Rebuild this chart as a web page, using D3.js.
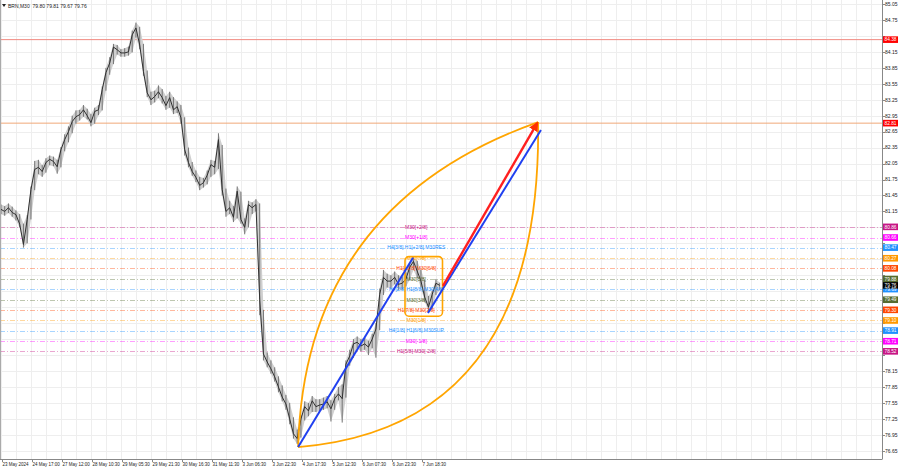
<!DOCTYPE html>
<html><head><meta charset="utf-8">
<script src="https://cdn.jsdelivr.net/npm/d3@7/dist/d3.min.js"></script>
<style>body{margin:0;background:#fff;overflow:hidden}svg{display:block;font-family:"Liberation Sans",Arial,sans-serif}</style>
</head><body><svg id="c" width="900" height="468"></svg>
<script>
// ---------- DATA ----------
const symbolTitle = "BRN,M30  79.80 79.81 79.67 79.76";
const timeLabels = ["23 May 2024","24 May 17:00","27 May 12:00","28 May 10:30","29 May 05:30","29 May 21:30","30 May 16:30","31 May 11:30","3 Jun 06:30","3 Jun 22:30","4 Jun 17:30","5 Jun 12:30","6 Jun 07:30","6 Jun 23:30","7 Jun 18:30"];
const priceTicks = [85.05,84.75,84.45,84.15,83.85,83.55,83.25,82.95,82.65,82.35,82.05,81.75,81.45,81.15,80.85,80.55,80.25,79.95,79.65,79.35,79.05,78.75,78.45,78.15,77.85,77.55,77.25,76.95,76.65];
// M30 bars, grouped 4 bars per sample
const closes = [81.19,81.15,81.22,81.13,81.09,80.91,80.53,81.00,81.56,81.94,81.98,81.90,82.07,82.13,82.09,81.99,82.31,82.50,82.65,82.84,82.93,82.97,83.06,82.95,82.82,83.03,83.06,83.44,83.76,83.94,84.24,84.19,84.13,84.13,84.15,84.47,84.60,84.28,83.78,83.38,83.25,83.31,83.40,83.29,83.14,83.29,83.06,83.12,82.91,82.31,82.07,81.90,81.79,81.64,81.69,81.83,82.03,81.98,82.50,81.56,81.15,81.22,81.04,81.53,81.00,80.85,81.28,81.22,81.28,79.50,78.47,78.32,78.19,78.04,77.85,77.66,77.53,77.25,76.97,76.88,77.25,77.48,77.40,77.59,77.48,77.51,77.53,77.57,77.44,77.63,77.72,77.63,78.28,78.43,78.66,78.69,78.62,78.66,78.60,78.75,78.94,79.59,79.91,79.84,79.84,79.91,79.78,79.80,79.88,80.10,80.21,80.03,79.84,79.54,79.35,79.59,79.80,79.76];
const highs = [81.28,81.25,81.30,81.24,81.17,81.10,80.92,81.08,81.62,82.10,82.12,82.02,82.15,82.20,82.18,82.12,82.36,82.60,82.75,82.95,83.05,83.06,83.15,83.08,82.98,83.10,83.15,83.50,83.85,84.05,84.30,84.28,84.20,84.22,84.25,84.55,84.70,84.62,84.30,83.80,83.40,83.42,83.52,83.45,83.32,83.40,83.30,83.22,83.15,82.92,82.35,82.08,81.92,81.80,81.78,81.92,82.12,82.10,82.62,82.40,81.58,81.35,81.25,81.62,81.52,81.02,81.35,81.32,81.38,81.30,79.30,78.50,78.35,78.22,78.05,77.88,77.70,77.55,77.28,77.05,77.32,77.58,77.55,77.68,77.62,77.62,77.65,77.68,77.60,77.72,77.85,77.90,78.35,78.55,78.75,78.80,78.75,78.78,78.72,78.85,79.05,79.70,80.05,79.98,79.95,80.02,79.95,79.92,80.00,80.18,80.30,80.22,80.05,79.86,79.56,79.66,79.88,79.81];
const lows = [81.10,81.07,81.12,81.05,80.98,80.85,80.47,80.55,81.00,81.55,81.85,81.80,81.88,82.02,82.00,81.86,81.98,82.28,82.45,82.62,82.80,82.86,82.93,82.88,82.75,82.80,82.96,83.05,83.42,83.72,83.92,84.10,84.06,84.06,84.08,84.14,84.42,84.20,83.70,83.30,83.15,83.20,83.28,83.18,83.06,83.10,82.98,83.00,82.80,82.20,81.98,81.82,81.70,81.55,81.60,81.66,81.80,81.85,81.95,81.45,81.05,81.10,80.95,81.02,80.92,80.72,80.85,81.10,81.15,79.20,78.35,78.22,78.10,77.95,77.75,77.58,77.42,77.15,76.88,76.78,76.90,77.22,77.30,77.38,77.38,77.40,77.42,77.45,77.20,77.42,77.60,77.18,77.65,78.25,78.40,78.58,78.52,78.55,78.45,78.58,78.40,78.92,79.58,79.72,79.70,79.78,79.68,79.68,79.74,79.86,80.05,79.90,79.72,79.45,79.28,79.32,79.58,79.67];
const lastPrice = 79.76;
// Murrey Math levels
const levelValues = [80.86,80.66,80.47,80.27,80.08,79.88,79.69,79.49,79.30,79.10,78.91,78.71,78.52];
const levelNames = ["M30[+2/8]","M30[+1/8]","H4[3/8] H1[+2/8] M30RES","M30[7/8]","H1[+1/8] M30[6/8]","M30[5/8]","H4[2/8] H1[8/8] M30[4/8]","M30[3/8]","H1[7/8] M30[2/8]","M30[1/8]","H4[1/8] H1[6/8] M30SUP","M30[-1/8]","H1[5/8] M30[-2/8]"];
const targetLevels = [84.38, 82.81];
// pattern objects (bar index, price)
const legAB = [{bar:318,price:76.72},{bar:440.5,price:80.28}];
const legCD = [{bar:456.5,price:79.24},{bar:577,price:82.68}];
const projection = [{bar:472.5,price:79.75},{bar:573,price:82.81}];
const arcStart = {bar:318,price:76.72}, arcEnd = {bar:574,price:82.83};
const arcUpperCtrl = {bar:325,price:81.27}, arcLowerCtrl = {bar:578,price:77.10};
const boxBars = [432,472], boxPrices = [80.30,79.18];

// ---------- STYLES ----------
const levelColors = ["#c71585","#ff00ff","#1e90ff","#ff9900","#ff4500","#556b2f","#1e90ff","#556b2f","#ff4500","#ff9900","#1e90ff","#ff00ff","#c71585"];
const targetColors = ["#f08a80","#f0a878"];

// ---------- SCALES ----------
const plotR = 882, plotB = 459;
const x = d3.scaleLinear().domain([0,960]).range([0,900]);
const y = d3.scaleLinear().domain([76.65,85.05]).range([450.8,4]);
const bx = i => x(4*i+1);

const svg = d3.select("#c");
const defs = svg.append("defs");
defs.append("clipPath").attr("id","clip").append("rect").attr("x",0).attr("y",0).attr("width",plotR).attr("height",plotB);
defs.append("marker").attr("id","arr").attr("viewBox","0 0 10 10").attr("refX",8).attr("refY",5)
  .attr("markerWidth",4).attr("markerHeight",4).attr("orient","auto")
  .append("path").attr("d","M0,0L10,5L0,10z").attr("fill","#ff3000");

const g = svg.append("g").attr("clip-path","url(#clip)");

// grid
g.append("g").selectAll("line").data(d3.range(1,960,16)).join("line")
  .attr("x1",d=>Math.round(x(d))+0.5).attr("x2",d=>Math.round(x(d))+0.5).attr("y1",0).attr("y2",plotB)
  .attr("stroke","#eeeeee").attr("stroke-width",1);
g.append("g").selectAll("line").data(priceTicks).join("line")
  .attr("y1",d=>Math.round(y(d))+0.5).attr("y2",d=>Math.round(y(d))+0.5).attr("x1",0).attr("x2",plotR)
  .attr("stroke","#eeeeee").attr("stroke-width",1);

// target lines
g.append("g").selectAll("line").data(targetLevels).join("line")
  .attr("y1",d=>y(d)).attr("y2",d=>y(d)).attr("x1",0).attr("x2",plotR)
  .attr("stroke",(d,i)=>targetColors[i]).attr("stroke-width",1);

// level lines
g.append("g").selectAll("line").data(levelValues).join("line")
  .attr("y1",d=>Math.round(y(d))+0.5).attr("y2",d=>Math.round(y(d))+0.5).attr("x1",0).attr("x2",plotR)
  .attr("stroke",(d,i)=>levelColors[i]).attr("stroke-width",1).attr("stroke-opacity",0.38)
  .attr("stroke-dasharray","5,2,1,2");

// price bars
const idx = d3.range(closes.length);
g.append("path").datum(idx)
  .attr("d", d3.area().x(i=>bx(i)).y0(i=>y(lows[i])).y1(i=>y(highs[i])))
  .attr("fill","#cfcfcf");
g.append("g").selectAll("line").data(idx).join("line")
  .attr("x1",i=>bx(i)).attr("x2",i=>bx(i)).attr("y1",i=>y(highs[i])).attr("y2",i=>y(lows[i]))
  .attr("stroke","#6a6a6a").attr("stroke-width",0.9);
g.append("path").datum(idx)
  .attr("d", d3.line().x(i=>bx(i)).y(i=>y(closes[i])))
  .attr("fill","none").attr("stroke","#303030").attr("stroke-width",1);

// level labels
g.append("g").selectAll("text").data(levelValues).join("text")
  .attr("x",x(444)).attr("y",d=>y(d)+1.8).attr("text-anchor","middle")
  .attr("font-size",5).attr("fill",(d,i)=>levelColors[i]).text((d,i)=>levelNames[i]);

// orange box
g.append("rect").attr("x",x(boxBars[0])).attr("y",y(boxPrices[0]))
  .attr("width",x(boxBars[1])-x(boxBars[0])).attr("height",y(boxPrices[1])-y(boxPrices[0]))
  .attr("rx",4).attr("fill","none").attr("stroke","#ffa500").attr("stroke-width",1.6);

// arcs
const P = p => [x(p.bar), y(p.price)];
[arcUpperCtrl, arcLowerCtrl].forEach(c=>{
  const p0=P(arcStart), p1=P(c), p2=P(arcEnd);
  const path = d3.path(); path.moveTo(...p0); path.quadraticCurveTo(...p1,...p2);
  g.append("path").attr("d",path.toString()).attr("fill","none").attr("stroke","#ffa500").attr("stroke-width",1.8);
});

// legs
const lineGen = d3.line().x(d=>x(d.bar)).y(d=>y(d.price));
[legAB, legCD].forEach(l=>g.append("path").attr("d",lineGen(l)).attr("fill","none").attr("stroke","#2040f0").attr("stroke-width",2));
g.append("path").attr("d",lineGen(projection)).attr("fill","none").attr("stroke","#ff2020").attr("stroke-width",2.4).attr("marker-end","url(#arr)");

// frame
svg.append("line").attr("x1",plotR+0.5).attr("x2",plotR+0.5).attr("y1",0).attr("y2",plotB).attr("stroke","#888");
svg.append("line").attr("x1",0).attr("x2",plotR+0.5).attr("y1",plotB+0.5).attr("y2",plotB+0.5).attr("stroke","#888");
svg.append("line").attr("x1",0.5).attr("x2",0.5).attr("y1",0).attr("y2",plotB).attr("stroke","#aaa");

// right value boxes (computed first to hide covered tick labels)
const boxes = targetLevels.map(v=>({v,c:"#ff0000"}))
  .concat(levelValues.map((v,i)=>({v,c:levelColors[i]})))
  .concat([{v:lastPrice,c:"#000"}]);
const visibleTicks = priceTicks.filter(t => boxes.every(b => Math.abs(y(b.v)-y(t)) > 4.5));

// right axis
const ax = svg.append("g");
ax.selectAll("line").data(priceTicks).join("line")
  .attr("x1",plotR).attr("x2",plotR+3).attr("y1",d=>Math.round(y(d))+0.5).attr("y2",d=>Math.round(y(d))+0.5).attr("stroke","#888");
ax.selectAll("text").data(visibleTicks).join("text")
  .attr("x",plotR+3).attr("y",d=>y(d)+1.8).attr("font-size",5).attr("fill","#222").text(d=>d.toFixed(2));

const bg = svg.append("g");
bg.selectAll("rect").data(boxes).join("rect")
  .attr("x",plotR+1).attr("y",d=>y(d.v)-3.3).attr("width",15).attr("height",6.6).attr("fill",d=>d.c);
bg.selectAll("text").data(boxes).join("text")
  .attr("x",plotR+8.5).attr("y",d=>y(d.v)+1.7).attr("text-anchor","middle").attr("font-size",4.8).attr("fill","#fff").text(d=>d.v.toFixed(2));

// time axis
const tx = svg.append("g");
tx.selectAll("line").data(timeLabels).join("line")
  .attr("x1",(d,i)=>Math.round(x(2+32*i))+0.5).attr("x2",(d,i)=>Math.round(x(2+32*i))+0.5)
  .attr("y1",plotB).attr("y2",plotB+3).attr("stroke","#888");
tx.selectAll("text").data(timeLabels).join("text")
  .attr("x",(d,i)=>x(2+32*i)+0.5).attr("y",466).attr("font-size",4.5).attr("fill","#222").text(d=>d);

// title
svg.append("path").attr("d","M2,4L6,4L4,7z").attr("fill","#222");
svg.append("text").attr("x",8).attr("y",7.5).attr("font-size",5).attr("fill","#222").attr("xml:space","preserve").text(symbolTitle);
</script></body></html>
